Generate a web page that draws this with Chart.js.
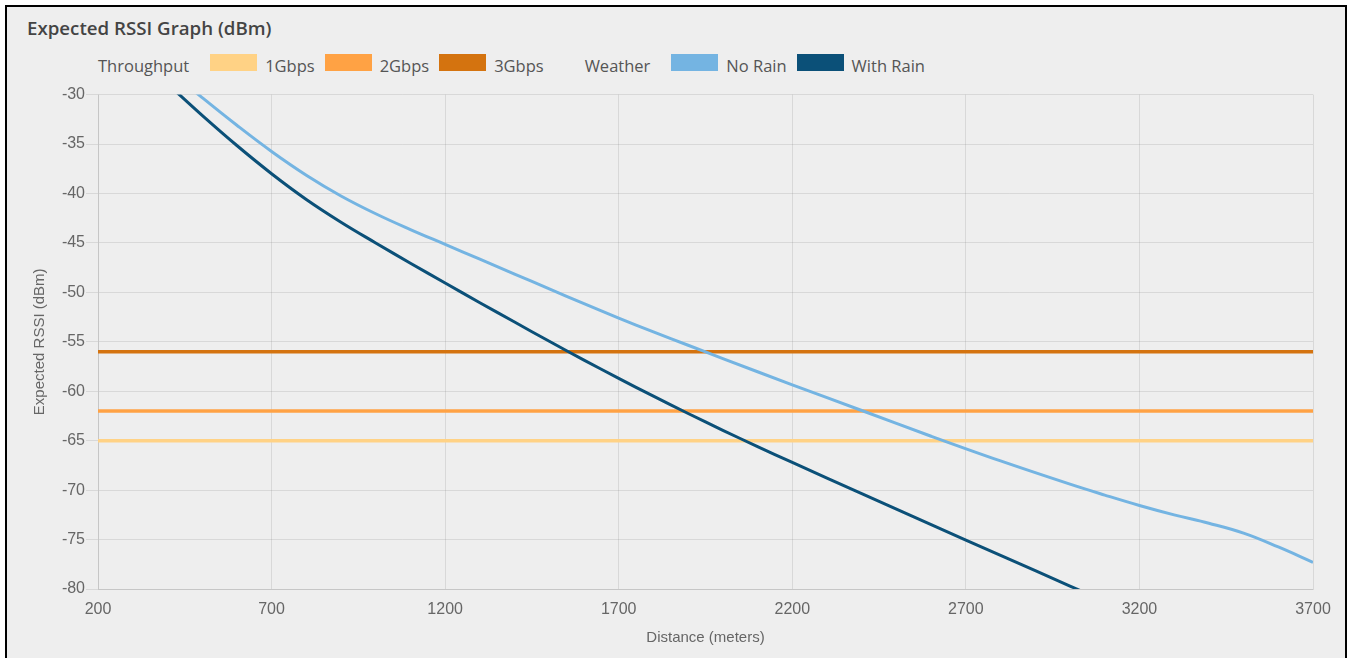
<!DOCTYPE html>
<html>
<head>
<meta charset="utf-8">
<title>Expected RSSI Graph (dBm)</title>
<script src="https://cdn.jsdelivr.net/npm/chart.js@4.4.1/dist/chart.umd.min.js"></script>
<style>
  html, body { margin: 0; padding: 0; background: #fff; overflow: hidden; }
  .frame {
    position: absolute; left: 5px; top: 5px;
    width: 1338px; height: 700px;
    border: 2px solid #000; background: #eeeeee;
  }
  .title {
    position: absolute; left: 27px; top: 16px;
    font: 600 18.7px/24px "Open Sans", sans-serif; color: #444;
  }
  .legend {
    position: absolute; left: 98px; top: 54px;
    display: flex; align-items: flex-start;
    font: 16.5px/20px "Open Sans", sans-serif; color: #555;
  }
  .legend .group { margin-right: 21px; margin-top: 2px; }
  .legend .group.next { margin-left: 31px; }
  .legend .box { width: 47px; height: 17px; margin-right: 8px; }
  .legend .text { margin-right: 10px; margin-top: 2px; }
  .chart-box { position: absolute; left: 8px; top: 84px; width: 1337px; height: 574px; }
</style>
</head>
<body>
<div class="frame"></div>
<div class="title">Expected RSSI Graph (dBm)</div>
<div class="legend" id="legend"></div>
<div class="chart-box"><canvas id="rssiChart"></canvas></div>

<script>
// Axis ticks
const xTicks = [200, 700, 1200, 1700, 2200, 2700, 3200, 3700];
const yTicks = [-80, -75, -70, -65, -60, -55, -50, -45, -40, -35, -30];

// Throughput thresholds (dBm)
const throughputLabels = ['1Gbps', '2Gbps', '3Gbps'];
const throughputLevels = [-65, -62, -56];
const throughputColors = ['#ffd285', '#ffa244', '#d4730f'];

// Expected RSSI curves
const weatherLabels = ['No Rain', 'With Rain'];
const weatherColors = ['#74b4e2', '#0b5078'];

const noRainDistance = [400, 500, 600, 700, 800, 900, 1000, 1100, 1200, 1300, 1400, 1500, 1600, 1700, 1800, 1900, 2000, 2200, 2400, 2600, 2800, 3000, 3100, 3200, 3300, 3400, 3500, 3600, 3700];
const noRainRssi = [-27.4, -30.3, -33.1, -35.75, -38.15, -40.25, -42.05, -43.65, -45.15, -46.65, -48.15, -49.65, -51.15, -52.6, -54.0, -55.35, -56.7, -59.35, -61.95, -64.55, -67.05, -69.4, -70.5, -71.55, -72.5, -73.35, -74.35, -75.75, -77.3];

const withRainDistance = [400, 500, 600, 700, 800, 900, 1000, 1100, 1200, 1300, 1400, 1500, 1600, 1700, 1800, 1900, 2000, 2100, 2200, 2400, 2600, 2800, 3000, 3100];
const withRainRssi = [-28.9, -32.1, -35.15, -38.0, -40.6, -42.9, -45.0, -47.05, -49.05, -51.05, -53.0, -54.95, -56.85, -58.7, -60.5, -62.25, -63.95, -65.6, -67.2, -70.35, -73.5, -76.6, -79.7, -81.25];

// Legend in html, grouped like the original
const legend = document.getElementById('legend');
function addGroup(name, labels, colors, first) {
  const g = document.createElement('div');
  g.className = first ? 'group' : 'group next';
  g.textContent = name;
  legend.appendChild(g);
  labels.forEach((label, i) => {
    const box = document.createElement('div');
    box.className = 'box';
    box.style.background = colors[i];
    legend.appendChild(box);
    const t = document.createElement('div');
    t.className = 'text';
    t.textContent = label;
    legend.appendChild(t);
  });
}
addGroup('Throughput', throughputLabels, throughputColors, true);
addGroup('Weather', weatherLabels, weatherColors, false);

function toPoints(xs, ys) {
  return xs.map((x, i) => ({ x: x, y: ys[i] }));
}

const datasets = [
  {
    label: weatherLabels[0],
    data: toPoints(noRainDistance, noRainRssi),
    borderColor: weatherColors[0],
    borderWidth: 3,
    tension: 0.4
  },
  {
    label: weatherLabels[1],
    data: toPoints(withRainDistance, withRainRssi),
    borderColor: weatherColors[1],
    borderWidth: 3,
    tension: 0.4
  }
];

throughputLabels.forEach((label, i) => {
  datasets.push({
    label: label,
    data: [
      { x: xTicks[0], y: throughputLevels[i] },
      { x: xTicks[xTicks.length - 1], y: throughputLevels[i] }
    ],
    borderColor: throughputColors[i],
    borderWidth: 3.5
  });
});

const tickFont = { family: "'Liberation Sans', Arial, sans-serif", size: 16 };
const titleFont = { family: "'Liberation Sans', Arial, sans-serif", size: 15 };
const gridColor = 'rgba(0,0,0,0.09)';

new Chart(document.getElementById('rssiChart'), {
  type: 'line',
  data: { datasets: datasets },
  options: {
    responsive: true,
    maintainAspectRatio: false,
    animation: false,
    clip: 0,
    elements: { point: { radius: 0 } },
    layout: { padding: { left: 0, right: 32, top: 10, bottom: 0 } },
    plugins: {
      legend: { display: false },
      tooltip: { enabled: false }
    },
    scales: {
      x: {
        type: 'linear',
        min: xTicks[0],
        max: xTicks[xTicks.length - 1],
        afterBuildTicks: scale => { scale.ticks = xTicks.map(v => ({ value: v })); },
        afterFit: scale => { scale.height = 69; },
        grid: { color: gridColor, drawTicks: false },
        border: { color: gridColor },
        ticks: {
          color: '#666', font: tickFont, padding: 11, maxRotation: 0,
          callback: value => String(value)
        },
        title: {
          display: true,
          text: 'Distance (meters)',
          color: '#666',
          font: titleFont,
          padding: { top: 0, bottom: 11 }
        }
      },
      y: {
        type: 'linear',
        min: yTicks[0],
        max: yTicks[yTicks.length - 1],
        afterBuildTicks: scale => { scale.ticks = yTicks.map(v => ({ value: v })); },
        afterFit: scale => { scale.width = 90; },
        grid: { color: gridColor, tickLength: 12 },
        border: { color: gridColor },
        ticks: { color: '#666', font: tickFont, padding: 1, callback: value => String(value) },
        title: {
          display: true,
          text: 'Expected RSSI (dBm)',
          color: '#666',
          font: titleFont,
          padding: { top: 23, bottom: 0 }
        }
      }
    }
  }
});
</script>
</body>
</html>
